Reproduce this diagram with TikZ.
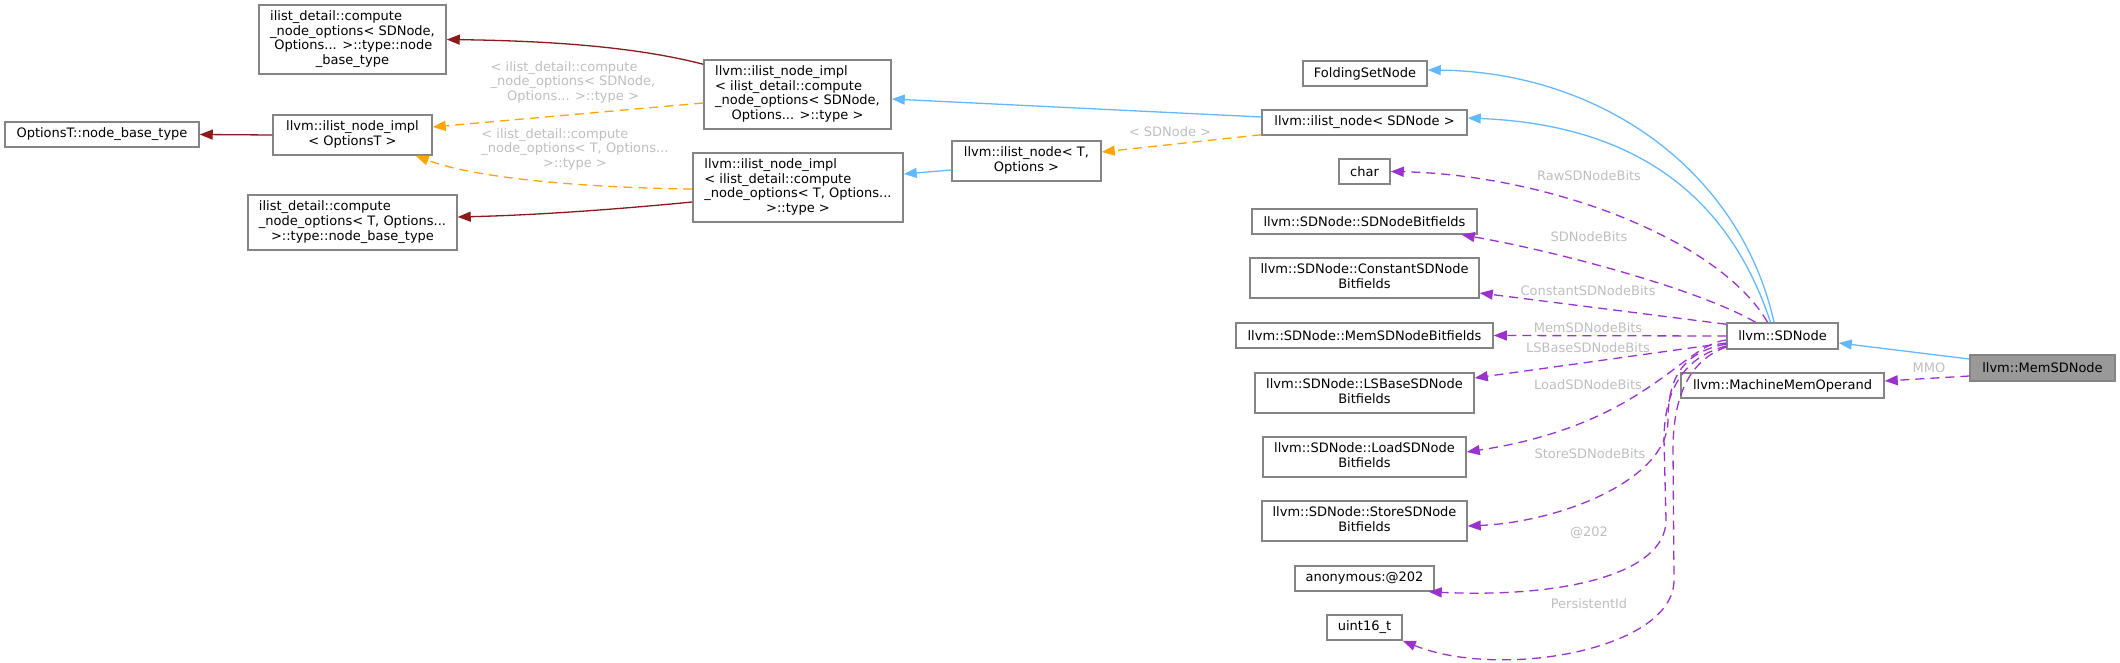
\documentclass[tikz,border=0pt]{standalone}
\usepackage{fontspec}
\setmainfont{DejaVu Sans}
\usepackage{tikz}
\usetikzlibrary{arrows.meta}
\definecolor{edgeblue}{HTML}{63B8FF}
\definecolor{edgeorange}{HTML}{FFA500}
\definecolor{edgered}{HTML}{8B1A1A}
\definecolor{edgepurple}{HTML}{9A32CD}
\definecolor{labelgrey}{HTML}{BEBEBE}
\definecolor{boxgrey}{HTML}{848484}
\definecolor{focusgrey}{HTML}{999999}
\newcommand{\boxlines}[1]{\begin{tabular}{@{}l@{}}#1\end{tabular}}
\newcommand{\lastln}[1]{\multicolumn{1}{@{}c@{}}{#1}}

\begin{document}
\begin{tikzpicture}[
  x=1pt, y=-1pt,
  font=\fontsize{13}{14.7}\selectfont,
  clsB/.style={
    draw=boxgrey, line width=1.5pt, fill=white, inner sep=0pt,
  },
  focusB/.style={clsB, fill=focusgrey},
  inhE/.style={draw=edgeblue, line width=1.3pt, -{Triangle[length=13pt,width=10pt]}},
  tplE/.style={draw=edgeorange, line width=1.3pt, dash pattern=on 9pt off 6pt, -{Triangle[length=13pt,width=10pt]}},
  redE/.style={draw=edgered, line width=1.3pt, -{Triangle[length=13pt,width=10pt]}},
  usedE/.style={draw=edgepurple, line width=1.3pt, dash pattern=on 9pt off 6pt, -{Triangle[length=13pt,width=10pt]}},
  lbl/.style={text=labelgrey, inner sep=0pt},
]
\useasboundingbox (0,0) rectangle (2120,663);

% Left side - ilist base types
\node[clsB, minimum width=187pt, minimum height=69pt] (nodeBase) at (352.5,39.5)
  {\boxlines{ilist\_detail::compute\\ \_node\_options< SDNode,\\ \ Options... >::type::node\\ \lastln{\_base\_type}}};
\node[clsB, minimum width=194pt, minimum height=25pt] (optBase) at (102,134.5) {OptionsT::node\_base\_type};
\node[clsB, minimum width=159pt, minimum height=40pt] (implOpt) at (352.5,135)
  {\boxlines{llvm::ilist\_node\_impl\\ \lastln{< OptionsT >}}};
\node[clsB, minimum width=209pt, minimum height=55pt] (tBase) at (352.5,222.5)
  {\boxlines{ilist\_detail::compute\\ \_node\_options< T, Options...\\ \lastln{>::type::node\_base\_type}}};

% Middle - ilist node implementations
\node[clsB, minimum width=187pt, minimum height=69pt] (implSD) at (797.5,94.5)
  {\boxlines{llvm::ilist\_node\_impl\\ < ilist\_detail::compute\\ \_node\_options< SDNode,\\ \lastln{Options... >::type >}}};
\node[clsB, minimum width=210pt, minimum height=69pt] (implT) at (798,187.5)
  {\boxlines{llvm::ilist\_node\_impl\\ < ilist\_detail::compute\\ \_node\_options< T, Options...\\ \lastln{>::type >}}};
\node[clsB, minimum width=149pt, minimum height=40pt] (nodeT) at (1026.5,161)
  {\boxlines{llvm::ilist\_node< T,\\ \lastln{Options >}}};

% Column of members
\node[clsB, minimum width=124pt, minimum height=25pt] (fold) at (1365,73.5) {FoldingSetNode};
\node[clsB, minimum width=205pt, minimum height=25pt] (nodeSD) at (1364.5,122.5) {llvm::ilist\_node< SDNode >};
\node[clsB, minimum width=51pt, minimum height=25pt] (chr) at (1364.5,171.5) {char};
\node[clsB, minimum width=225pt, minimum height=25pt] (bfSD) at (1364.5,221.5) {llvm::SDNode::SDNodeBitfields};
\node[clsB, minimum width=229pt, minimum height=40pt] (bfConst) at (1364.5,278)
  {\boxlines{llvm::SDNode::ConstantSDNode\\ \lastln{Bitfields}}};
\node[clsB, minimum width=257pt, minimum height=25pt] (bfMem) at (1364.5,335.5) {llvm::SDNode::MemSDNodeBitfields};
\node[clsB, minimum width=219pt, minimum height=40pt] (bfLS) at (1364.5,393)
  {\boxlines{llvm::SDNode::LSBaseSDNode\\ \lastln{Bitfields}}};
\node[clsB, minimum width=203pt, minimum height=40pt] (bfLoad) at (1364.5,457)
  {\boxlines{llvm::SDNode::LoadSDNode\\ \lastln{Bitfields}}};
\node[clsB, minimum width=205pt, minimum height=40pt] (bfStore) at (1364.5,521)
  {\boxlines{llvm::SDNode::StoreSDNode\\ \lastln{Bitfields}}};
\node[clsB, minimum width=139pt, minimum height=25pt] (anon) at (1364.5,578.5) {anonymous:@202};
\node[clsB, minimum width=75pt, minimum height=25pt] (uint) at (1364.5,627.5) {uint16\_t};

% Right side - SDNode and MemSDNode
\node[clsB, minimum width=111pt, minimum height=26pt] (sdn) at (1782.5,336) {llvm::SDNode};
\node[clsB, minimum width=203pt, minimum height=25pt] (mmo) at (1782.5,385.5) {llvm::MachineMemOperand};
\node[focusB, minimum width=145pt, minimum height=26pt] (memsdn) at (2042.5,368) {llvm::MemSDNode};

% Edges on the left
\draw[redE] ([yshift=-5pt]implSD.north west) .. controls (640,48) and (560,41) .. (nodeBase.east);
\draw[redE] (implOpt.west) -- (optBase.east);
\draw[redE] ([yshift=-14.5pt]implT.west) .. controls (620,209) and (540,215) .. ([yshift=5.5pt]tBase.east);
\draw[tplE] ([yshift=-8.5pt]implSD.west) -- ([yshift=8pt]implOpt.east);
\draw[tplE] ([yshift=-1.5pt]implT.west) .. controls (600,188) and (480,180) .. ([xshift=-17pt]implOpt.south east);
\draw[inhE] ([yshift=5.5pt]nodeSD.west) -- ([yshift=-4.5pt]implSD.east);
\draw[tplE] ([yshift=1pt]nodeSD.south west) -- ([yshift=9pt]nodeT.east);
\draw[inhE] ([yshift=-9pt]nodeT.west) -- ([yshift=13.5pt]implT.east);

\node[lbl] (lblSD) at (573,83)
  {\boxlines{< ilist\_detail::compute\\ \_node\_options< SDNode,\\ \lastln{Options... >::type >}}};
\node[lbl] (lblT) at (575,150)
  {\boxlines{< ilist\_detail::compute\\ \_node\_options< T, Options...\\ \lastln{>::type >}}};
\node[lbl] (lblNode) at (1170,132) {< SDNode >};

% Edges on the right
\draw[inhE] ([xshift=-8.5pt]sdn.north) .. controls (1740,170) and (1600,72) .. ([yshift=3.5pt]fold.east);
\draw[inhE] ([xshift=-12pt]sdn.north) .. controls (1730,200) and (1640,125) .. ([yshift=4.5pt]nodeSD.east);
\draw[inhE] ([yshift=9pt]memsdn.west) -- ([yshift=-7pt]sdn.east);
\draw[usedE] ([yshift=-8pt]memsdn.west) -- ([yshift=4.5pt]mmo.east);

\draw[usedE] ([xshift=-15pt]sdn.north) .. controls (1720,240) and (1550,175) .. (chr.east);
\draw[usedE] ([xshift=-27pt]sdn.north) .. controls (1700,290) and (1560,252) .. ([xshift=-16pt]bfSD.south east);
\draw[usedE] ([yshift=-2pt]sdn.north west) -- ([yshift=-15pt]bfConst.east);
\draw[usedE] (sdn.west) -- (bfMem.east);
\draw[usedE] ([yshift=-7pt]sdn.west) -- ([yshift=15pt]bfLS.east);
\draw[usedE] ([yshift=-4pt]sdn.west) .. controls (1682,345) and (1645,425) .. ([yshift=5pt]bfLoad.east);
\draw[usedE] ([yshift=-8pt]sdn.west) .. controls (1685,352) and (1668,375) .. (1668,420)
  .. controls (1668,480) and (1560,522) .. ([yshift=-5pt]bfStore.east);
\draw[usedE] ([yshift=-10pt]sdn.west) .. controls (1688,356) and (1664,385) .. (1664,440) -- (1666,520)
  .. controls (1666,575) and (1560,598) .. ([xshift=-6pt]anon.south east);
\draw[usedE] ([yshift=-11pt]sdn.west) .. controls (1690,360) and (1673,395) .. (1673,450) -- (1674,580)
  .. controls (1674,650) and (1500,680) .. (uint.south east);

\node[lbl] (lblRaw) at (1589,176) {RawSDNodeBits};
\node[lbl] (lblBits) at (1589,237) {SDNodeBits};
\node[lbl] (lblConst) at (1588,291) {ConstantSDNodeBits};
\node[lbl] (lblMem) at (1588,328) {MemSDNodeBits};
\node[lbl] (lblLS) at (1588,348) {LSBaseSDNodeBits};
\node[lbl] (lblLoad) at (1588,385) {LoadSDNodeBits};
\node[lbl] (lblStore) at (1590,454) {StoreSDNodeBits};
\node[lbl] (lblAnon) at (1589,533) {@202};
\node[lbl] (lblPid) at (1589,604) {PersistentId};
\node[lbl] (lblMMO) at (1929,368) {MMO};

\end{tikzpicture}
\end{document}
